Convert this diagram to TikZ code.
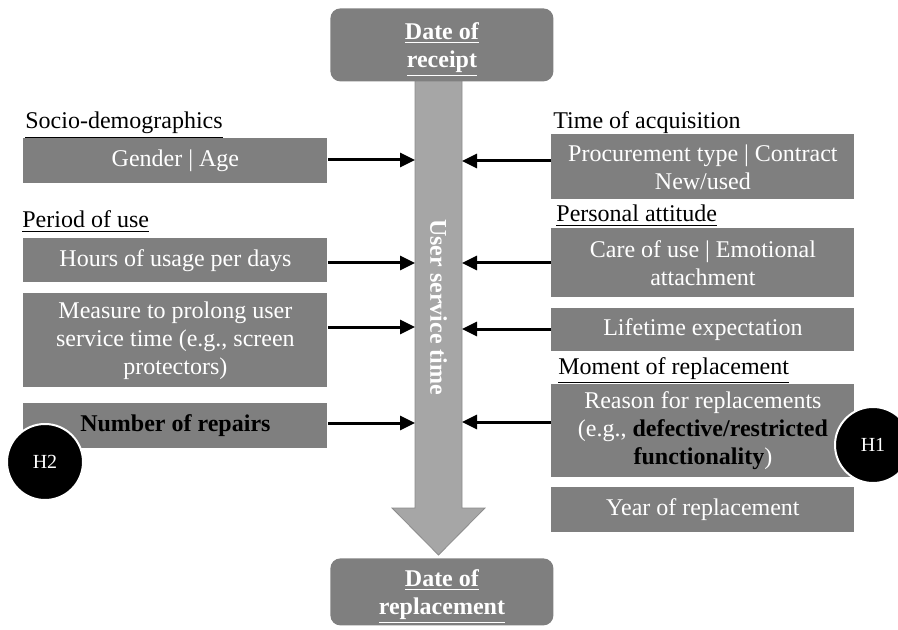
\documentclass[tikz,border=0pt]{standalone}
\usepackage{fontspec}
\setmainfont{Liberation Serif}
\usetikzlibrary{arrows.meta}
\definecolor{boxgray}{RGB}{127,127,127}
\definecolor{shaftgray}{RGB}{166,166,166}
\definecolor{shaftline}{RGB}{140,140,140}

\begin{document}
\begin{tikzpicture}[x=0.5pt, y=-0.5pt]
\tikzset{every node/.style={font=\fontsize{12}{14}\selectfont, inner sep=0pt},
    box/.style={fill=boxgray, text=white, align=center, anchor=north west},
    lbox/.style={box, minimum width=152pt},
    rbox/.style={box, minimum width=151.5pt},
    datebox/.style={box, rounded corners=5pt, minimum width=111.5pt, font=\fontsize{12}{14}\selectfont\bfseries},
    head/.style={anchor=base west},
    hyp/.style={circle, fill=black, draw=white, line width=1pt, minimum size=38pt, text=white, font=\fontsize{10}{12}\selectfont},
    conn/.style={line width=1.5pt, -{Triangle[length=7.5pt,width=7pt]}}}
    \useasboundingbox (0,0) rectangle (898,630);

    % time line
    \draw[shaftline, fill=shaftgray] (415,80) -- (462,80) -- (462,508) -- (485,508) -- (438.5,555) -- (392,508) -- (415,508) -- cycle;
    \node[rotate=-90, text=white, font=\fontsize{12}{14}\selectfont\bfseries] (ust) at (438.5,307) {User service time};
    \node[datebox, minimum height=36.5pt] (receipt) at (330,8) {\rule{0pt}{13pt}\underline{Date of}\\\underline{receipt}};
    \node[datebox, minimum height=33.5pt] (replace) at (330,558) {\rule{0pt}{13.5pt}\underline{Date of}\\\underline{replacement}};

    % left side
    \node[head] (socio) at (25,129) {\underline{Socio-demographics}};
    \node[lbox, minimum height=22.5pt] (gender) at (23,138) {Gender | Age};
    \node[head] (period) at (22,228) {\underline{Period of use}};
    \node[lbox, minimum height=22pt] (hours) at (23,238) {Hours of usage per days};
    \node[lbox, minimum height=47pt] (measure) at (23,293) {Measure to prolong user\\service time (e.g., screen\\protectors)};
    \node[lbox, minimum height=22.5pt, text=black, font=\fontsize{12}{14}\selectfont\bfseries] (repairs) at (23,403) {Number of repairs};
    \node[hyp] (h2) at (45,462) {H2};

    % right side
    \node[head] (acq) at (553,129) {\underline{Time of acquisition}};
    \node[rbox, minimum height=32.5pt] (procure) at (551,134) {Procurement type | Contract\\New/used};
    \node[head] (att) at (556,222) {\underline{Personal attitude}};
    \node[rbox, minimum height=34.5pt] (care) at (551,228) {Care of use | Emotional\\attachment};
    \node[rbox, minimum height=21.5pt] (life) at (551,308) {Lifetime expectation};
    \node[head] (moment) at (558,374) {\underline{Moment of replacement}};
    \node[rbox, minimum height=46.5pt] (reason) at (551,384) {Reason for replacements\\(e.g., \textcolor{black}{\bfseries defective/restricted}\\\textcolor{black}{\bfseries functionality})};
    \node[rbox, minimum height=22.5pt] (year) at (551,487) {Year of replacement};
    \node[hyp] (h1) at (873,445) {H1};

    % arrows into the time line
    \coordinate (sl1) at (415,160);
    \coordinate (sl2) at (415,263);
    \coordinate (sl3) at (415,327);
    \coordinate (sl4) at (415,423);
    \coordinate (sr1) at (462,161);
    \coordinate (sr2) at (462,263);
    \coordinate (sr3) at (462,329);
    \coordinate (sr4) at (462,422);
    \draw[conn] (gender.east |- sl1) -- (sl1);
    \draw[conn] (hours.east |- sl2) -- (sl2);
    \draw[conn] (measure.east |- sl3) -- (sl3);
    \draw[conn] (repairs.east |- sl4) -- (sl4);
    \draw[conn] (procure.west |- sr1) -- (sr1);
    \draw[conn] (care.west |- sr2) -- (sr2);
    \draw[conn] (life.west |- sr3) -- (sr3);
    \draw[conn] (reason.west |- sr4) -- (sr4);
\end{tikzpicture}
\end{document}
